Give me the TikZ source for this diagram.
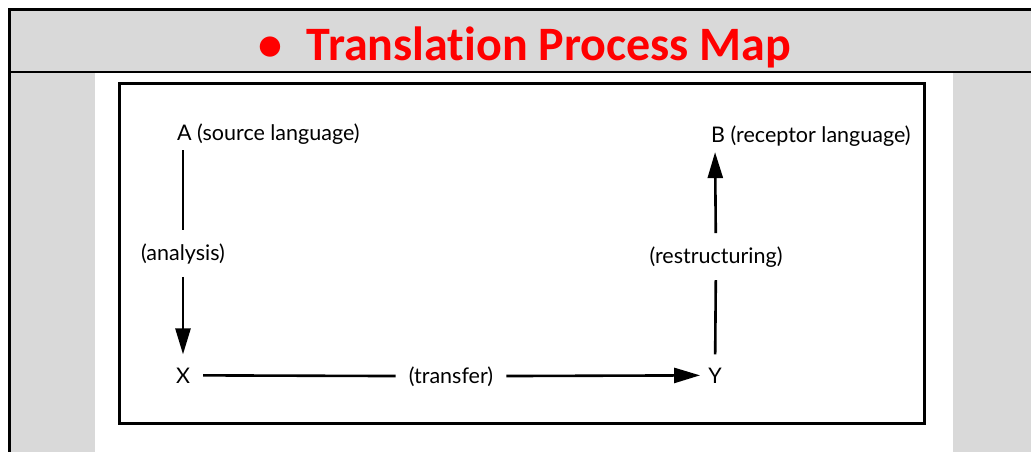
\documentclass[tikz,border=0pt]{standalone}
\usepackage{fontspec}
\setmainfont{Lato}
\newfontfamily\headfont[RawFeature={-liga;-clig;-calt;-dlig}]{Carlito}
\usetikzlibrary{arrows.meta}
\definecolor{cellgray}{HTML}{D9D9D9}
\definecolor{headred}{HTML}{FF0000}

\begin{document}
\begin{tikzpicture}[x=1pt,y=-1pt,
		heading/.style={font=\headfont\bfseries\fontsize{48}{52}\selectfont, text=headred, inner sep=0pt},
		term/.style={font=\fontsize{21.5}{25}\selectfont, inner sep=0pt},
		link/.style={line width=2.6pt, shorten >=13pt, shorten <=13pt},
		tip/.style={-{Triangle[length=26pt,width=15pt]}},
	]
	\useasboundingbox (0,0) rectangle (1031,452);
	% Draw table cell and picture background
	\fill[white] (0,0) rectangle (1031,452);
	\fill[cellgray] (9,10) rectangle (1031,452);
	\fill[white] (95,72) rectangle (953,452);
	\draw[line width=3pt] (1031,10) -- (9,10) -- (9,452);
	\draw[line width=2pt] (9,72) -- (1031,72);
	\draw[line width=3pt] (119,84) rectangle (924,423);
	% Draw diagram elements
	\node (heading) [heading,anchor=base] at (525,61) {•\hspace{24pt}Translation Process Map};
	\node (A) [term,anchor=base west] at (177,140) {A (source language)};
	\node (B) [term,anchor=base west] at (711,142) {B (receptor language)};
	\node (X) [term,anchor=base] at (183,383) {X};
	\node (Y) [term,anchor=base] at (715,383) {Y};
	\node (analysis) [term,anchor=base] at (183,260) {(analysis)};
	\node (transfer) [term,anchor=base] at (451,383) {(transfer)};
	\node (restructuring) [term,anchor=base] at (716,263) {(restructuring)};
	% Draw arrows between elements
	\draw[link,shorten <=6pt] (A.south -| X) -- (analysis);
	\draw[link,tip] (analysis) -- (X);
	\draw[link] (X) -- (transfer);
	\draw[link,tip,shorten >=8pt] (transfer) -- (Y);
	\draw[link] (Y) -- (restructuring);
	\draw[link,tip,shorten >=6pt] (restructuring) -- (B.south -| Y);
\end{tikzpicture}
\end{document}
